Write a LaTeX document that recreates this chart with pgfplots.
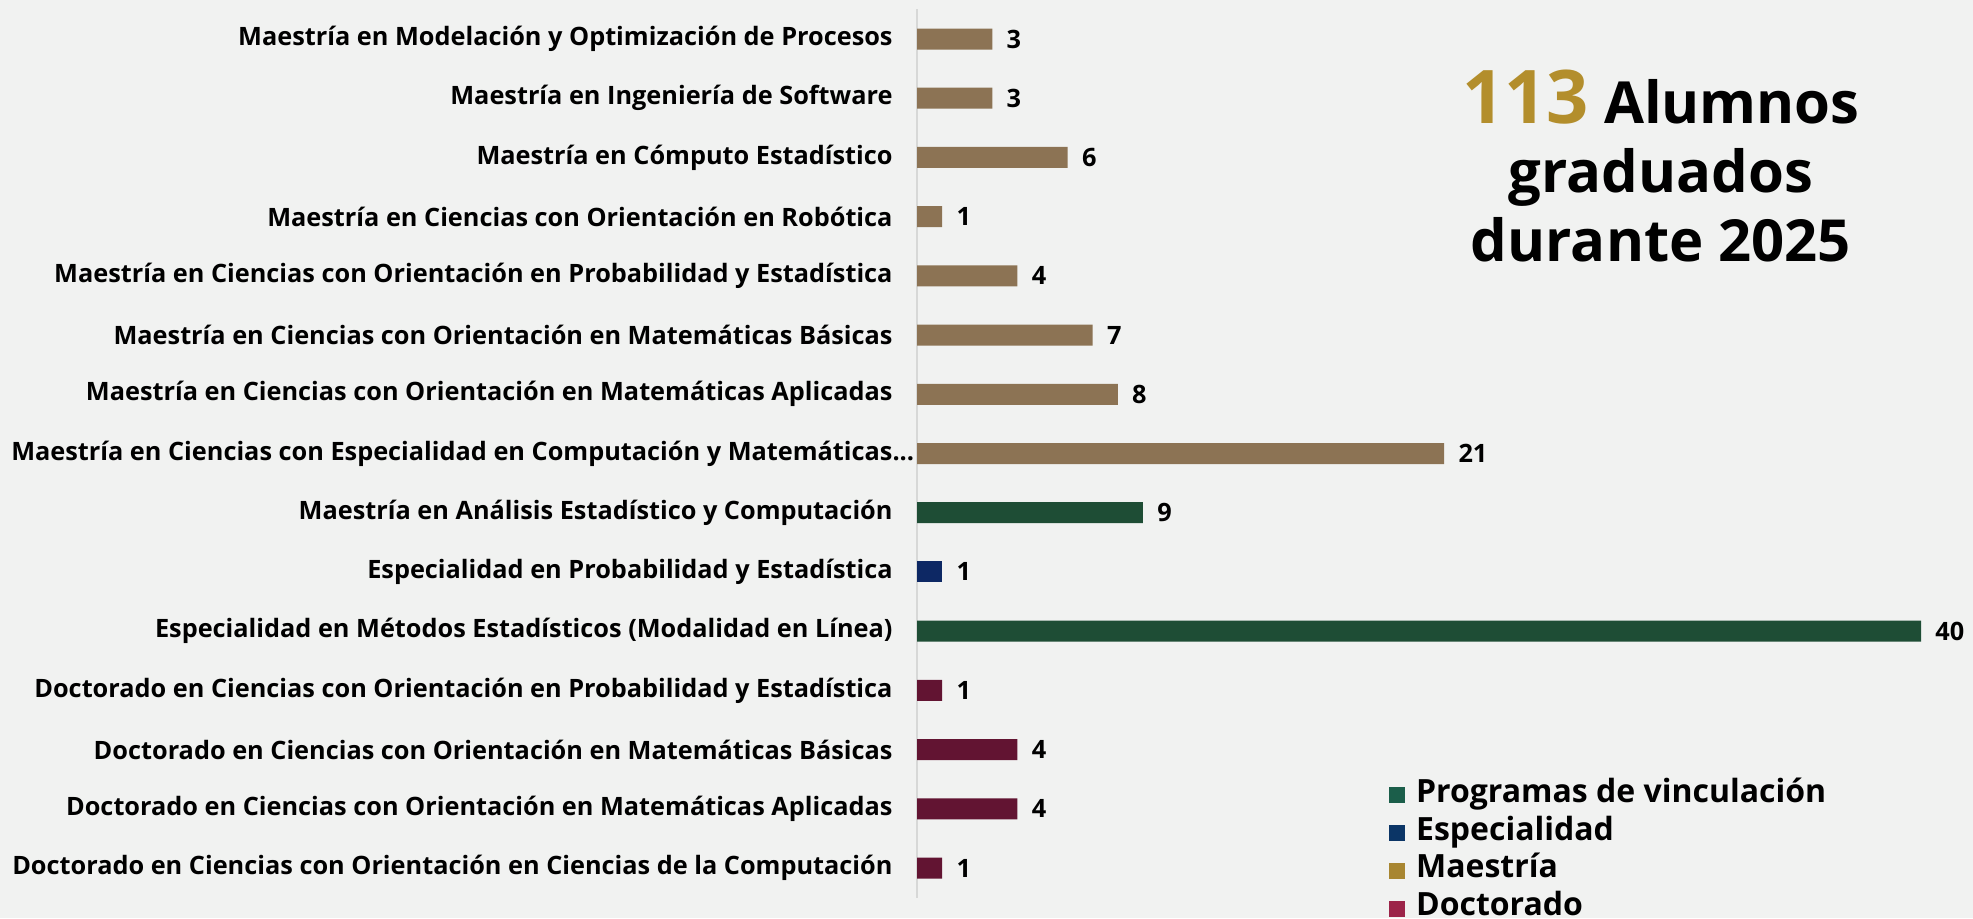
\documentclass[border=0pt]{standalone}
\usepackage{fontspec}
\setmainfont{Open Sans}
\usepackage{pgfplots}
\pgfplotsset{compat=1.18}

\definecolor{bgc}{RGB}{241,242,241}
\definecolor{barM}{RGB}{140,115,84}
\definecolor{barG}{RGB}{30,77,53}
\definecolor{barE}{RGB}{13,40,100}
\definecolor{barD}{RGB}{98,20,50}
\definecolor{legG}{RGB}{27,94,74}
\definecolor{legE}{RGB}{11,53,102}
\definecolor{legM}{RGB}{168,134,49}
\definecolor{legD}{RGB}{156,36,73}
\definecolor{gold}{RGB}{179,142,44}
\definecolor{axisgray}{RGB}{215,216,215}

\begin{document}
\begin{tikzpicture}[font=\bfseries]
\fill[bgc] (0,0) rectangle (986.5pt,459pt);
\begin{axis}[
  at={(458.5pt,10.2pt)}, anchor=south west,
  scale only axis,
  width=502pt, height=444.1pt,
  xbar, bar width=10.5pt, bar shift=0pt,
  xmin=0, xmax=40,
  ymin=0.5, ymax=15.5,
  axis lines*=left,
  x axis line style={draw=none},
  y axis line style={draw=axisgray, line width=0.75pt},
  xtick=\empty,
  ytick={1,...,15},
  major tick length=0pt,
  yticklabels={
    Doctorado en Ciencias con Orientación en Ciencias de la Computación,
    Doctorado en Ciencias con Orientación en Matemáticas Aplicadas,
    Doctorado en Ciencias con Orientación en Matemáticas Básicas,
    Doctorado en Ciencias con Orientación en Probabilidad y Estadística,
    Especialidad en Métodos Estadísticos (Modalidad en Línea),
    Especialidad en Probabilidad y Estadística,
    Maestría en Análisis Estadístico y Computación,
    Maestría en Ciencias con Especialidad en Computación y Matemáticas\rlap{...},
    Maestría en Ciencias con Orientación en Matemáticas Aplicadas,
    Maestría en Ciencias con Orientación en Matemáticas Básicas,
    Maestría en Ciencias con Orientación en Probabilidad y Estadística,
    Maestría en Ciencias con Orientación en Robótica,
    Maestría en Cómputo Estadístico,
    Maestría en Ingeniería de Software,
    Maestría en Modelación y Optimización de Procesos},
  yticklabel style={font=\fontsize{12.65}{14}\selectfont\bfseries, anchor=east, xshift=-12pt, inner sep=0pt},
  nodes near coords,
  nodes near coords style={font=\fontsize{12.65}{14}\selectfont\bfseries, anchor=west, xshift=7pt, inner sep=0pt},
  /pgf/number format/assume math mode=true,
  clip=false,
  legend style={at={(axis description cs:0.470,0.137)}, anchor=north west,
    draw=none, fill=none, font=\fontsize{16}{18}\selectfont\bfseries,
    row sep=0pt, inner sep=0pt,
    nodes={inner sep=0pt, text height=13pt, text depth=5.9pt},
    /tikz/every odd column/.append style={column sep=5.5pt}},
  legend cell align=left,
  legend image code/.code={\fill[#1] (0pt,-3.75pt) rectangle (7.5pt,3.75pt);},
]
\addlegendimage{legG}
\addlegendentry{Programas de vinculación}
\addlegendimage{legE}
\addlegendentry{Especialidad}
\addlegendimage{legM}
\addlegendentry{Maestría}
\addlegendimage{legD}
\addlegendentry{Doctorado}

\addplot[forget plot, fill=barM, draw=none] coordinates {
  (21,8) (8,9) (7,10) (4,11) (1,12) (6,13) (3,14) (3,15)};
\addplot[forget plot, fill=barG, draw=none] coordinates {
  (40,5) (9,7)};
\addplot[forget plot, fill=barE, draw=none] coordinates {
  (1,6)};
\addplot[forget plot, fill=barD, draw=none] coordinates {
  (1,1) (4,2) (4,3) (1,4)};
\end{axis}

\node[align=center, font=\fontsize{29}{34.6}\selectfont\bfseries] at (830.5pt,376pt)
  {{\color{gold}\fontsize{37}{34.6}\selectfont 113} Alumnos\\graduados\\durante 2025};

\pgfresetboundingbox
\useasboundingbox (0,0) rectangle (986.5pt,459pt);
\end{tikzpicture}
\end{document}
